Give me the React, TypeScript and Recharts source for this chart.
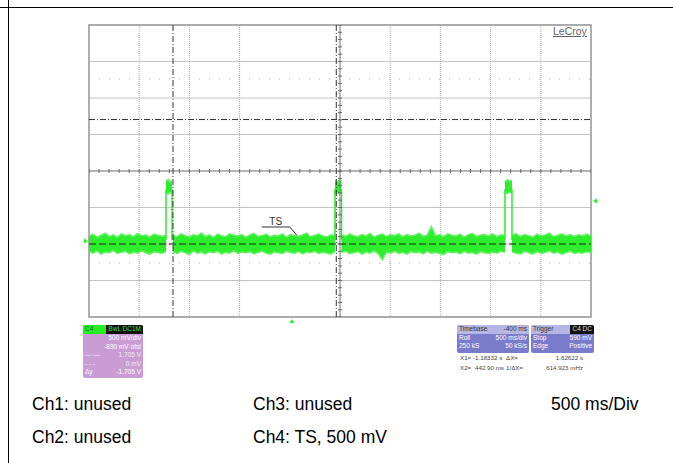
import React from "react";
import {
  ComposedChart, Area, Scatter, XAxis, YAxis, CartesianGrid,
  ReferenceLine, ReferenceArea, ReferenceDot,
} from "recharts";

// screen: 10 div x 500 ms, 8 div x 500 mV
const T_START = -2.02;
const T_END = 2.98;
const SEC_PER_DIV = 0.5;
const V_MIN = -1;
const V_MAX = 3;
const V_PER_DIV = 0.5;

const X1 = -1.18332;
const X2 = 0.4429;
const CURSOR_V1 = 1.705;
const CURSOR_V2 = 0;
const TRIGGER_T = 0;
const TRIGGER_V = 0.59;
const DOTTED_LEVELS = [2.26, -0.26];

// baseline noise envelope per segment (mV)
const SEG_A = [-2.02, -1.253];
const SEG_A_HI = [110, 135, 95, 120, 150, 105, 125, 90, 140, 115, 130, 100, 145, 110, 125, 95, 135, 120, 105, 115];
const SEG_A_LO = [-105, -125, -95, -140, -110, -120, -90, -130, -115, -100, -135, -110, -125, -95, -120, -140, -105, -115, -130, -100];

const SEG_B = [-1.183, 0.43];
const SEG_B_HI = [120, 100, 140, 115, 95, 130, 110, 150, 105, 125, 90, 135, 115, 100, 140, 120, 110, 130, 95, 125, 145, 105, 115, 135, 100, 120, 110, 140, 95, 130, 115, 105, 125, 150, 100, 120, 135, 110, 95, 125, 115];
const SEG_B_LO = [-110, -130, -100, -120, -145, -95, -125, -110, -135, -105, -120, -100, -140, -115, -125, -95, -130, -110, -120, -105, -135, -115, -100, -125, -140, -110, -120, -130, -100, -115, -125, -105, -135, -110, -120, -100, -130, -115, -125, -140, -105];

const SEG_C = [0.495, 2.123];
const SEG_C_HI = [125, 105, 140, 115, 100, 130, 110, 145, 95, 120, 135, 105, 125, 115, 140, 100, 130, 110, 120, 150, 105, 125, 240, 115, 130, 100, 140, 120, 110, 135, 95, 125, 145, 105, 120, 130, 110, 140, 100, 125, 115];
const SEG_C_LO = [-115, -100, -130, -120, -105, -140, -110, -125, -95, -135, -220, -110, -125, -100, -130, -115, -140, -105, -120, -110, -135, -100, -125, -115, -130, -145, -105, -120, -110, -135, -100, -125, -115, -140, -105, -120, -130, -110, -125, -100, -115];

const SEG_D = [2.193, 2.98];
const SEG_D_HI = [120, 140, 105, 130, 115, 95, 135, 110, 125, 150, 100, 120, 140, 110, 130, 105, 125, 115, 135, 110];
const SEG_D_LO = [-110, -125, -135, -100, -120, -140, -105, -130, -115, -95, -125, -110, -140, -120, -100, -130, -115, -125, -105, -120];

// TS pulses (start, end in s) and their noisy top (mV)
const PULSES = [[-1.253, -1.193], [0.43, 0.495], [2.123, 2.193]];
const PULSE_HI = [[860, 885, 850, 870], [865, 850, 880, 860], [855, 880, 860, 875]];
const PULSE_LO = [[700, 685, 705, 695], [690, 705, 690, 700], [700, 690, 710, 695]];

const GREEN = "#2ded2d";
const GREEN_EDGE = "#66f266";

const band = (seg: number[], hi: number[], lo: number[]) =>
  hi.map((h, i) => ({
    t: seg[0] + (i * (seg[1] - seg[0])) / (hi.length - 1),
    v: [lo[i] / 1000, h / 1000],
  }));

const SEGMENTS = [
  band(SEG_A, SEG_A_HI, SEG_A_LO),
  band(SEG_B, SEG_B_HI, SEG_B_LO),
  band(SEG_C, SEG_C_HI, SEG_C_LO),
  band(SEG_D, SEG_D_HI, SEG_D_LO),
  ...PULSES.map((p, i) => band(p, PULSE_HI[i], PULSE_LO[i])),
];

const X_TICKS = Array.from({ length: 11 }, (_, i) => T_START + i * SEC_PER_DIV);
const Y_TICKS = Array.from({ length: 9 }, (_, i) => V_MIN + i * V_PER_DIV);
const T_CENTER = (T_START + T_END) / 2;
const V_CENTER = (V_MIN + V_MAX) / 2;
const H_MINOR = Array.from({ length: 51 }, (_, i) => ({ t: T_START + i * SEC_PER_DIV / 5, v: V_CENTER }));
const V_MINOR = Array.from({ length: 41 }, (_, i) => ({ t: T_CENTER, v: V_MIN + i * V_PER_DIV / 5 }));

const HTick = (p: any) => <line x1={p.cx} x2={p.cx} y1={p.cy - 2} y2={p.cy + 2} stroke="#666" strokeWidth={1} />;
const VTick = (p: any) => <line x1={p.cx - 2} x2={p.cx + 2} y1={p.cy} y2={p.cy} stroke="#666" strokeWidth={1} />;

const small: React.CSSProperties = { fontFamily: "Arial, 'Liberation Sans', sans-serif", fontSize: 6.5, lineHeight: "8.5px", whiteSpace: "nowrap" };
const big: React.CSSProperties = { position: "absolute", fontFamily: "Arial, 'Liberation Sans', sans-serif", fontSize: 17.5, lineHeight: "20px", color: "#000", whiteSpace: "nowrap" };

function Row({ l, r, color = "#fff" }: { l: string; r: string; color?: string }) {
  return (
    <div style={{ display: "flex", justifyContent: "space-between", padding: "0 2px", color }}>
      <span>{l}</span><span>{r}</span>
    </div>
  );
}

export default function App() {
  return (
    <div style={{ position: "absolute", left: 0, top: 0, width: 673, height: 463, background: "#fff", overflow: "hidden" }}>
      <div style={{ position: "absolute", left: 0, top: 7, width: 673, height: 1, background: "#000" }} />
      <div style={{ position: "absolute", left: 8, top: 0, width: 1, height: 463, background: "#000" }} />

      <div style={{ position: "absolute", left: 0, top: 0 }}>
        <ComposedChart width={673} height={463} margin={{ top: 25, left: 89, right: 82, bottom: 146 }}>
          <XAxis type="number" dataKey="t" domain={[T_START, T_END]} ticks={X_TICKS} hide allowDataOverflow />
          <YAxis type="number" domain={[V_MIN, V_MAX]} ticks={Y_TICKS} hide allowDataOverflow width={0} />
          <CartesianGrid vertical={false} stroke="#c4c4c4" />
          <CartesianGrid horizontal={false} stroke="#b0b0b0" strokeDasharray="1 1" />
          {DOTTED_LEVELS.map((v) => (
            <ReferenceLine key={v} y={v} stroke="#aaa" strokeDasharray="1 9" />
          ))}
          <ReferenceLine x={T_CENTER} stroke="#888" />
          <ReferenceLine y={V_CENTER} stroke="#888" />
          <Scatter data={H_MINOR} dataKey="v" shape={HTick} isAnimationActive={false} />
          <Scatter data={V_MINOR} dataKey="v" shape={VTick} isAnimationActive={false} />
          <ReferenceArea x1={T_START} x2={T_END} y1={V_MIN} y2={V_MAX} fill="none" stroke="#9a9a9a" strokeWidth={1.5} />
          {SEGMENTS.map((d, i) => (
            <Area key={i} data={d} dataKey="v" type="linear" stroke={GREEN_EDGE} strokeWidth={1.5}
              fill={GREEN} fillOpacity={1} dot={false} activeDot={false} isAnimationActive={false} />
          ))}
          {PULSES.map((p, i) => (
            <ReferenceLine key={"r" + i} segment={[{ x: p[0], y: 0.05 }, { x: p[0], y: 0.75 }]} stroke={GREEN} strokeWidth={1.5} />
          ))}
          {PULSES.map((p, i) => (
            <ReferenceLine key={"f" + i} segment={[{ x: p[1], y: 0.05 }, { x: p[1], y: 0.75 }]} stroke={GREEN} strokeWidth={1.5} />
          ))}
          <ReferenceLine y={CURSOR_V2} stroke="#222" strokeDasharray="7 3" />
          <ReferenceLine y={CURSOR_V1} stroke="#333" strokeDasharray="6 2 1 2" />
          <ReferenceLine x={X1} stroke="#333" strokeDasharray="6 2 1 2" />
          <ReferenceLine x={X2} stroke="#333" strokeDasharray="6 2 1 2" />
          <ReferenceLine segment={[{ x: -0.3, y: 0.233 }, { x: -0.02, y: 0.233 }]} stroke="#333" />
          <ReferenceLine segment={[{ x: -0.02, y: 0.233 }, { x: 0.05, y: 0.12 }]} stroke="#333" />
          <ReferenceDot x={-0.16} y={0.32} ifOverflow="visible"
            shape={(p: any) => (
              <text x={p.cx} y={p.cy + 4} textAnchor="middle" fontSize={10} fill="#333" fontFamily="Arial">TS</text>
            )} />
          <ReferenceDot x={T_END} y={TRIGGER_V} ifOverflow="visible"
            shape={(p: any) => <path d={`M${p.cx + 2},${p.cy} L${p.cx + 6},${p.cy - 2.5} L${p.cx + 6},${p.cy + 2.5} Z`} fill={GREEN} />} />
          <ReferenceDot x={TRIGGER_T} y={V_MIN} ifOverflow="visible"
            shape={(p: any) => <path d={`M${p.cx},${p.cy + 2} L${p.cx - 2.5},${p.cy + 6} L${p.cx + 2.5},${p.cy + 6} Z`} fill={GREEN} />} />
          <ReferenceDot x={T_START} y={0} ifOverflow="visible"
            shape={(p: any) => <path d={`M${p.cx - 1},${p.cy - 3} L${p.cx - 5},${p.cy - 5.5} L${p.cx - 5},${p.cy - 0.5} Z`} fill={GREEN} />} />
        </ComposedChart>
      </div>

      <div style={{ position: "absolute", left: 553, top: 25, fontFamily: "Arial, sans-serif", fontSize: 10.5, color: "#666", textDecoration: "underline" }}>LeCroy</div>

      {/* channel descriptor */}
      <div style={{ ...small, position: "absolute", left: 83, top: 325, width: 60, height: 53, background: "#c99dd4", borderRadius: 2, overflow: "hidden" }}>
        <div style={{ height: 9, background: "#22ee22", display: "flex", alignItems: "center", justifyContent: "space-between" }}>
          <span style={{ color: "#063", paddingLeft: 2 }}>C4</span>
          <span style={{ background: "#111", color: "#4d4", padding: "0 2px", height: 9 }}>BwL DC1M</span>
        </div>
        <Row l="" r="500 mV/div" />
        <Row l="" r="-890 mV ofst" />
        <Row l="—·—" r="1.705 V" color="#f4ecf6" />
        <Row l="- - -" r="0 mV" color="#f4ecf6" />
        <Row l="Δy" r="-1.705 V" />
      </div>

      {/* timebase and trigger */}
      <div style={{ ...small, position: "absolute", left: 457, top: 325, width: 72, height: 28, background: "#7b7bcb", borderRadius: 2, overflow: "hidden" }}>
        <div style={{ background: "#b6b6e4" }}><Row l="Timebase" r="-400 ms" color="#333" /></div>
        <Row l="Roll" r="500 ms/div" />
        <Row l="250 kS" r="50 kS/s" />
      </div>
      <div style={{ ...small, position: "absolute", left: 531, top: 325, width: 63, height: 28, background: "#7b7bcb", borderRadius: 2, overflow: "hidden" }}>
        <div style={{ background: "#b6b6e4", display: "flex", justifyContent: "space-between", paddingLeft: 2 }}>
          <span style={{ color: "#333" }}>Trigger</span>
          <span style={{ background: "#111", color: "#ddd", padding: "0 2px" }}>C4 DC</span>
        </div>
        <Row l="Stop" r="590 mV" />
        <Row l="Edge" r="Positive" />
      </div>
      <div style={{ ...small, fontSize: 6.2, position: "absolute", left: 460, top: 354, width: 123, color: "#444" }}>
        <div style={{ position: "relative", height: 10 }}>
          <span style={{ position: "absolute", left: 0 }}>X1=</span>
          <span style={{ position: "absolute", left: 13 }}>-1.18332 s</span>
          <span style={{ position: "absolute", left: 46 }}>ΔX=</span>
          <span style={{ position: "absolute", right: 0 }}>1.62622 s</span>
        </div>
        <div style={{ position: "relative", height: 10 }}>
          <span style={{ position: "absolute", left: 0 }}>X2=</span>
          <span style={{ position: "absolute", left: 15 }}>442.90 ms</span>
          <span style={{ position: "absolute", left: 46 }}>1/ΔX=</span>
          <span style={{ position: "absolute", right: 0 }}>614.923 mHz</span>
        </div>
      </div>

      <div style={{ ...big, left: 32, top: 394 }}>Ch1: unused</div>
      <div style={{ ...big, left: 253, top: 394 }}>Ch3: unused</div>
      <div style={{ ...big, left: 551, top: 394 }}>500 ms/Div</div>
      <div style={{ ...big, left: 32, top: 427 }}>Ch2: unused</div>
      <div style={{ ...big, left: 253, top: 427 }}>Ch4: TS, 500 mV</div>
    </div>
  );
}
